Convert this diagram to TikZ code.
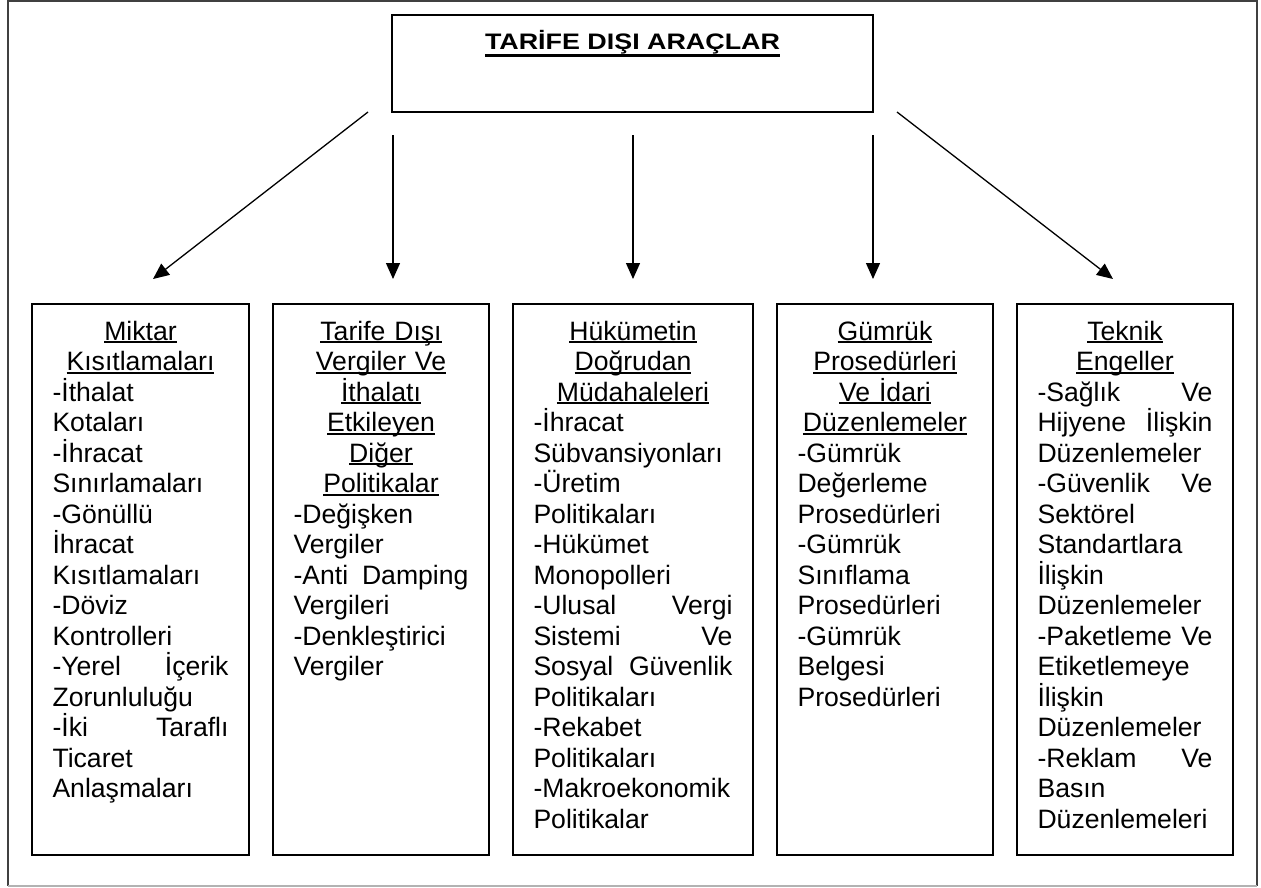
\documentclass[tikz,border=0pt]{standalone}
\usepackage{fontspec}
\usepackage{graphicx}
\usetikzlibrary{arrows.meta}
\newfontfamily\arialf{Liberation Sans}
\setlength{\parindent}{0pt}
\newcommand\bodyfont{\arialf\fontsize{26.6}{30.5}\selectfont\parskip=0pt\parindent=0pt}
\newcommand\myul[1]{\setbox0=\hbox{#1}\rlap{\rule[-3.3pt]{\wd0}{1.9pt}}\box0}
\newcommand\myulT[1]{\setbox2=\hbox{#1}\rlap{\rule[-8pt]{\wd2}{3pt}}\box2}
\newcommand\ctr[1]{\makebox[\hsize]{\myul{#1}}}
\newcommand\topstrut{\rule{0pt}{26pt}}
\tikzset{
  box/.style={draw, line width=1.8pt, inner sep=0pt, outer sep=0pt, minimum height=551pt},
  topbox/.style={draw, line width=1.8pt, inner sep=0pt, outer sep=0pt, minimum width=481pt, minimum height=97pt},
  txt/.style={inner sep=0pt, outer sep=0pt, align=left, anchor=north west, font=\bodyfont},
  arr/.style={line width=1.3pt, -{Triangle[length=16pt,width=14pt]}},
  frame/.style={line width=1.4pt}
}
\begin{document}
\begin{tikzpicture}[x=1pt,y=1pt]
\useasboundingbox (0,0) rectangle (1261,-887);
% outer frame
\draw[frame, black!75] (8,-886) -- (8,-1) -- (1257,-1) -- (1257,-886);
\draw[frame, black!30] (8,-886) -- (1257,-886);

% top box
\node[topbox] (top) at (632.5,-63.5) {};
\node[inner sep=0pt, anchor=base] (title) at (632.5,-49.3)
  {\myulT{\resizebox{295pt}{\height}{\arialf\bfseries\fontsize{22.4}{26}\selectfont TARİFE DIŞI ARAÇLAR}}};

% bottom boxes
\node[box, minimum width=217pt] (b1) at (140.5,-579.5) {};
\node[box, minimum width=216pt] (b2) at (381,-579.5) {};
\node[box, minimum width=240pt] (b3) at (633,-579.5) {};
\node[box, minimum width=216pt] (b4) at (885,-579.5) {};
\node[box, minimum width=216pt] (b5) at (1125,-579.5) {};

% arrow end points
\coordinate (s1) at (368,-112);  \coordinate (e1) at (153,-279);
\coordinate (s2) at (393,-135);  \coordinate (e2) at (393,-279);
\coordinate (s3) at (633,-135);  \coordinate (e3) at (633,-279);
\coordinate (s4) at (873,-135);  \coordinate (e4) at (873,-279);
\coordinate (s5) at (897,-112);  \coordinate (e5) at (1113,-279);
\draw[arr] (s1) -- (e1);
\draw[arr] (s2) -- (e2);
\draw[arr] (s3) -- (e3);
\draw[arr] (s4) -- (e4);
\draw[arr] (s5) -- (e5);

% texts
\node[txt, text width=176pt] (t1) at ([shift={(20.5,-10)}]b1.north west) {%
\topstrut\ctr{Miktar}\\
\ctr{Kısıtlamaları}\\
-İthalat\\
Kotaları\\
-İhracat\\
Sınırlamaları\\
-Gönüllü\\
İhracat\\
Kısıtlamaları\\
-Döviz\\
Kontrolleri\\
-Yerel\hfill İçerik\\
Zorunluluğu\\
-İki\hfill Taraflı\\
Ticaret\\
Anlaşmaları};

\node[txt, text width=175pt] (t2) at ([shift={(20.5,-10)}]b2.north west) {%
\topstrut\ctr{Tarife Dışı}\\
\ctr{Vergiler Ve}\\
\ctr{İthalatı}\\
\ctr{Etkileyen}\\
\ctr{Diğer}\\
\ctr{Politikalar}\\
-Değişken\\
Vergiler\\
-Anti\hfill Damping\\
Vergileri\\
-Denkleştirici\\
Vergiler};

\node[txt, text width=199pt] (t3) at ([shift={(20.5,-10)}]b3.north west) {%
\topstrut\ctr{Hükümetin}\\
\ctr{Doğrudan}\\
\ctr{Müdahaleleri}\\
-İhracat\\
Sübvansiyonları\\
-Üretim\\
Politikaları\\
-Hükümet\\
Monopolleri\\
-Ulusal\hfill Vergi\\
Sistemi\hfill Ve\\
Sosyal\hfill Güvenlik\\
Politikaları\\
-Rekabet\\
Politikaları\\
-Makroekonomik\\
Politikalar};

\node[txt, text width=175pt] (t4) at ([shift={(20.5,-10)}]b4.north west) {%
\topstrut\ctr{Gümrük}\\
\ctr{Prosedürleri}\\
\ctr{Ve İdari}\\
\ctr{Düzenlemeler}\\
-Gümrük\\
Değerleme\\
Prosedürleri\\
-Gümrük\\
Sınıflama\\
Prosedürleri\\
-Gümrük\\
Belgesi\\
Prosedürleri};

\node[txt, text width=175pt] (t5) at ([shift={(20.5,-10)}]b5.north west) {%
\topstrut\ctr{Teknik}\\
\ctr{Engeller}\\
-Sağlık\hfill Ve\\
Hijyene\hfill İlişkin\\
Düzenlemeler\\
-Güvenlik\hfill Ve\\
Sektörel\\
Standartlara\\
İlişkin\\
Düzenlemeler\\
-Paketleme\hfill Ve\\
Etiketlemeye\\
İlişkin\\
Düzenlemeler\\
-Reklam\hfill Ve\\
Basın\\
Düzenlemeleri};
\end{tikzpicture}
\end{document}
